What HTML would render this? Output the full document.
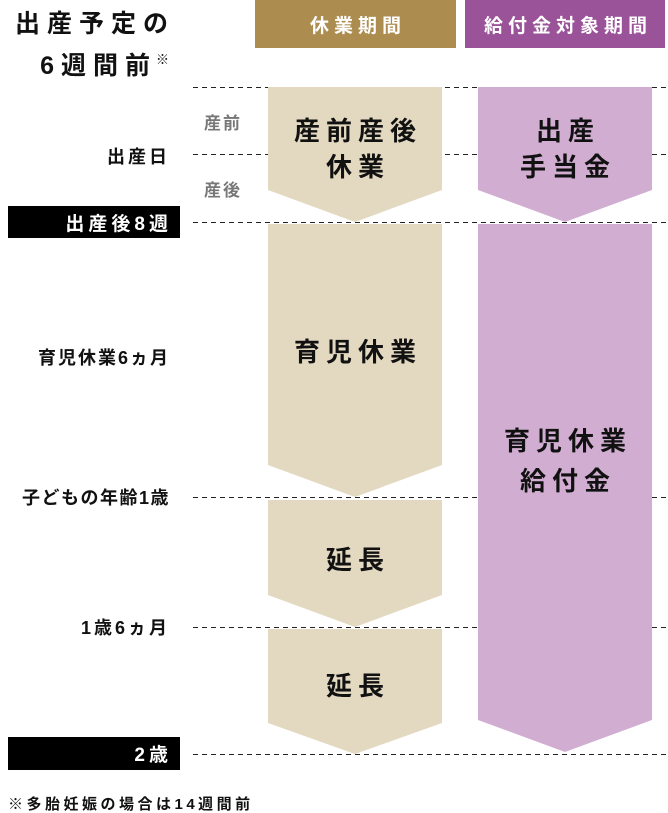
<!DOCTYPE html>
<html><head><meta charset="utf-8"><style>
html,body{margin:0;padding:0;background:#fff;}
svg{display:block;}
text{font-family:"Liberation Sans","Noto Sans CJK JP",sans-serif;font-weight:bold;}
</style></head><body>
<svg width="668" height="813" viewBox="0 0 668 813" xmlns="http://www.w3.org/2000/svg">
<g stroke="#222" stroke-width="1" stroke-dasharray="5,4">
<line x1="193" y1="87.5" x2="668" y2="87.5"/>
<line x1="193" y1="154.5" x2="668" y2="154.5"/>
<line x1="193" y1="222.5" x2="668" y2="222.5"/>
<line x1="193" y1="497.5" x2="668" y2="497.5"/>
<line x1="193" y1="627.5" x2="668" y2="627.5"/>
<line x1="193" y1="754.5" x2="668" y2="754.5"/>
</g>
<rect x="255" y="0" width="201" height="48" fill="#ad8d4f"/>
<rect x="465" y="0" width="200" height="48" fill="#9a5299"/>
<text x="358" y="32" font-size="19" fill="#fff" text-anchor="middle" letter-spacing="5">休業期間</text>
<text x="568" y="32" font-size="19" fill="#fff" text-anchor="middle" letter-spacing="5">給付金対象期間</text>
<g fill="#e3d8c0">
<polygon points="268,87 442,87 442,190 355,222 268,190"/>
<polygon points="268,224 442,224 442,465 355,497 268,465"/>
<polygon points="268,500 442,500 442,595 355,627 268,595"/>
<polygon points="268,629 442,629 442,723 355,754 268,723"/>
</g>
<g fill="#d1aed1">
<polygon points="478,87 652,87 652,190 565,222 478,190"/>
<polygon points="478,224 652,224 652,720 565,752 478,720"/>
</g>
<g font-size="26" fill="#111" text-anchor="middle" letter-spacing="6">
<text x="358" y="140">産前産後</text>
<text x="358" y="176">休業</text>
<text x="568" y="140">出産</text>
<text x="568" y="176">手当金</text>
<text x="358" y="361">育児休業</text>
<text x="568" y="450">育児休業</text>
<text x="568" y="490">給付金</text>
<text x="358" y="569">延長</text>
<text x="358" y="695">延長</text>
</g>
<g font-size="25" fill="#111" text-anchor="end" letter-spacing="7">
<text x="175" y="32">出産予定の</text>
<text x="157" y="74">6週間前</text>
</g>
<text x="156" y="64" font-size="13" fill="#111">※</text>
<g font-size="17" fill="#777" letter-spacing="2">
<text x="204" y="129">産前</text>
<text x="204" y="196">産後</text>
</g>
<g font-size="18" fill="#111" text-anchor="end">
<text x="170" y="163" letter-spacing="3">出産日</text>
<text x="170" y="364" letter-spacing="2">育児休業6ヵ月</text>
<text x="170" y="504" letter-spacing="1.5">子どもの年齢1歳</text>
<text x="170" y="634" letter-spacing="3">1歳6ヵ月</text>
</g>
<rect x="8" y="206" width="172" height="32" fill="#000"/>
<rect x="8" y="737" width="172" height="33" fill="#000"/>
<g font-size="19" fill="#fff" text-anchor="end">
<text x="172" y="230" letter-spacing="4">出産後8週</text>
<text x="172" y="761" letter-spacing="4">2歳</text>
</g>
<text x="8" y="809" font-size="15" fill="#111" letter-spacing="3.5">※多胎妊娠の場合は14週間前</text>
</svg>
</body></html>
